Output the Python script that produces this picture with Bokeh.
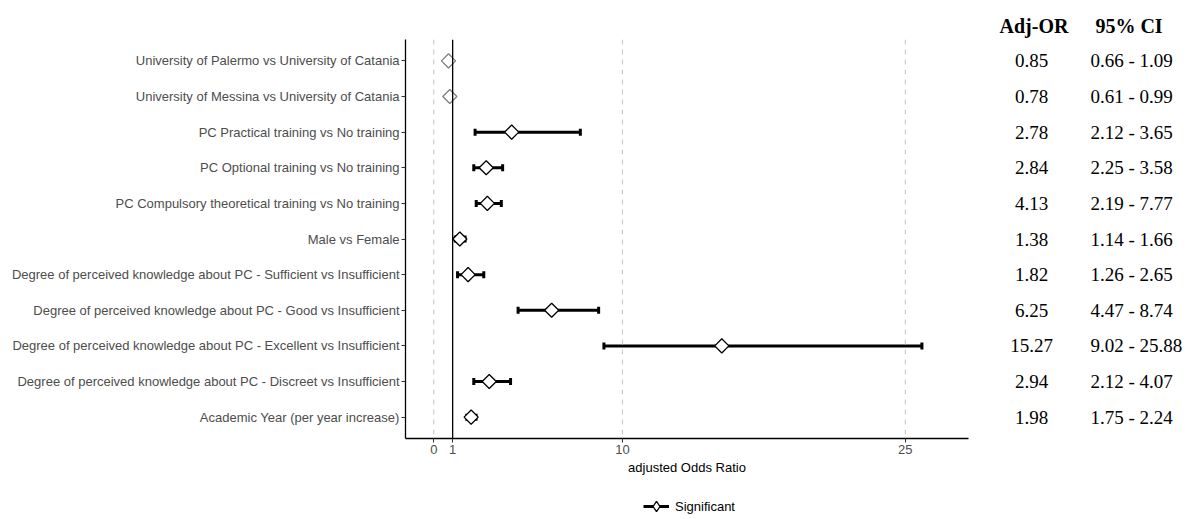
import math
from bokeh.plotting import figure
from bokeh.layouts import row, column
from bokeh.models import (Range1d, FixedTicker, Span, Legend, LegendItem,
                          ColumnDataSource)
from bokeh.embed import file_html
from bokeh.resources import INLINE
from bokeh.core.properties import value

# ---------------- data ----------------
labels = [
    "University of Palermo vs University of Catania",
    "University of Messina vs University of Catania",
    "PC Practical training vs No training",
    "PC Optional training vs No training",
    "PC Compulsory theoretical training vs No training",
    "Male vs Female",
    "Degree of perceived knowledge about PC - Sufficient vs Insufficient",
    "Degree of perceived knowledge about PC - Good vs Insufficient",
    "Degree of perceived knowledge about PC - Excellent vs Insufficient",
    "Degree of perceived knowledge about PC - Discreet vs Insufficient",
    "Academic Year (per year increase)",
]
or_plot = [0.78, 0.85, 4.13, 2.78, 2.84, 1.38, 1.82, 6.25, 15.27, 2.94, 1.98]
lo_plot = [0.61, 0.66, 2.19, 2.12, 2.25, 1.14, 1.26, 4.47, 9.02, 2.12, 1.75]
hi_plot = [0.99, 1.09, 7.77, 3.65, 3.58, 1.66, 2.65, 8.74, 25.88, 4.07, 2.24]
significant = [False, False, True, True, True, True, True, True, True, True, True]

# table text as printed
table_or = ["0.85", "0.78", "2.78", "2.84", "4.13", "1.38", "1.82", "6.25",
            "15.27", "2.94", "1.98"]
table_ci = ["0.66 - 1.09", "0.61 - 0.99", "2.12 - 3.65", "2.25 - 3.58",
            "2.19 - 7.77", "1.14 - 1.66", "1.26 - 2.65", "4.47 - 8.74",
            "9.02 - 25.88", "2.12 - 4.07", "1.75 - 2.24"]
table_headers = ["Adj-OR", "95% CI"]
legend_label = "Significant"

x_ticks = [0, 1, 10, 25]
dashed_refs = [0, 10, 25]
null_value = 1

# ---------------- build ----------------
ypos = list(range(1, len(labels) + 1))
sig_idx = [i for i, s in enumerate(significant) if s]
ns_idx = [i for i, s in enumerate(significant) if not s]

sig_src = ColumnDataSource(dict(
    y=[ypos[i] for i in sig_idx], est=[or_plot[i] for i in sig_idx],
    lo=[lo_plot[i] for i in sig_idx], hi=[hi_plot[i] for i in sig_idx]))
ns_src = ColumnDataSource(dict(
    y=[ypos[i] for i in ns_idx], est=[or_plot[i] for i in ns_idx]))

SANS = "Liberation Sans"
SERIF = "Liberation Serif"

H_MAIN = 482
H_LEG = 37
TOP = 39
BOTTOM = 44
LEFT = 405
RIGHT = 15
W_MAIN = 983
W_TAB = 211

yr = Range1d(len(labels) + 0.6, 0.4)

p = figure(width=W_MAIN, height=H_MAIN, x_range=Range1d(-1.5, 28.35),
           y_range=yr, output_backend="svg", toolbar_location=None,
           min_border_left=LEFT, min_border_right=RIGHT,
           min_border_top=TOP, min_border_bottom=BOTTOM)
p.grid.visible = False
p.outline_line_color = None

# reference lines
for v in dashed_refs:
    p.add_layout(Span(location=v, dimension="height", line_color="#c4c4c4",
                      line_dash="5 5", line_width=1))
p.add_layout(Span(location=null_value, dimension="height", line_color="black",
                  line_width=1.3))

SEG_KW = dict(line_color="black", line_width=3)
DIA_KW = dict(marker="square", angle=math.pi / 4, size=10, fill_color="white",
              line_color="black", line_width=1.3)

# error bars
p.segment(x0="lo", y0="y", x1="hi", y1="y", source=sig_src, **SEG_KW)
p.scatter(x="lo", y="y", source=sig_src, marker="dash", angle=math.pi / 2,
          size=7, line_color="black", line_width=3)
p.scatter(x="hi", y="y", source=sig_src, marker="dash", angle=math.pi / 2,
          size=7, line_color="black", line_width=3)

# points
p.scatter(x="est", y="y", source=sig_src, **DIA_KW)
p.scatter(x="est", y="y", source=ns_src, marker="square",
          angle=math.pi / 4, size=10, fill_color="white",
          line_color="#7f7f7f", line_width=1.3)

# axes
xa = p.xaxis[0]
xa.ticker = FixedTicker(ticks=x_ticks)
xa.axis_label = "adjusted Odds Ratio"
xa.axis_label_text_font = SANS
xa.axis_label_text_font_size = "13px"
xa.axis_label_text_font_style = "normal"
xa.axis_label_text_color = "black"
xa.axis_label_standoff = 3
xa.major_label_text_font = SANS
xa.major_label_text_font_size = "13px"
xa.major_label_text_color = "#4d4d4d"
xa.major_label_standoff = 2
xa.axis_line_color = "black"
xa.axis_line_width = 1.3
xa.major_tick_line_color = "#333333"
xa.major_tick_in = 0
xa.major_tick_out = 4
xa.minor_tick_line_color = None

ya = p.yaxis[0]
ya.ticker = FixedTicker(ticks=ypos)
ya.major_label_overrides = {y: lab for y, lab in zip(ypos, labels)}
ya.major_label_text_font = SANS
ya.major_label_text_font_size = "13px"
ya.major_label_text_color = "#4d4d4d"
ya.major_label_standoff = 2
ya.axis_line_color = "black"
ya.axis_line_width = 1.3
ya.major_tick_line_color = "#333333"
ya.major_tick_in = 0
ya.major_tick_out = 4
ya.minor_tick_line_color = None

# ---------------- table ----------------
t = figure(width=W_TAB, height=H_MAIN, x_range=Range1d(0, W_TAB), y_range=yr,
           output_backend="svg", toolbar_location=None,
           x_axis_location="above", y_axis_location=None,
           min_border_left=0, min_border_right=0, min_border_top=TOP,
           min_border_bottom=BOTTOM)
t.grid.visible = False
t.outline_line_color = None

ta = t.xaxis[0]
ta.ticker = FixedTicker(ticks=[50.5, 145.5])
ta.major_label_overrides = {50.5: table_headers[0], 145.5: table_headers[1]}
ta.major_label_text_font = SERIF
ta.major_label_text_font_size = "20px"
ta.major_label_text_font_style = "bold"
ta.major_label_text_color = "black"
ta.major_label_standoff = 3
ta.major_tick_in = 0
ta.major_tick_out = 0
ta.axis_line_color = None
ta.major_tick_line_color = None
ta.minor_tick_line_color = None

t.text(x=[48] * len(ypos), y=ypos, text=table_or, text_align="center",
       text_baseline="middle", text_font=value(SERIF),
       text_font_size="19px", text_color="black")
t.text(x=[107] * len(ypos), y=ypos, text=table_ci, text_align="left",
       text_baseline="middle", text_font=value(SERIF),
       text_font_size="19px", text_color="black")

# ---------------- legend strip ----------------
lg = figure(width=W_MAIN, height=H_LEG, x_range=Range1d(0, 1),
            y_range=Range1d(0, 1), output_backend="svg",
            toolbar_location=None, x_axis_location=None,
            y_axis_location=None, min_border_left=LEFT,
            min_border_right=RIGHT, min_border_top=0, min_border_bottom=0)
lg.grid.visible = False
lg.outline_line_color = None
# legend proxies: one point kept outside the visible strip range
proxy = ColumnDataSource(dict(x=[-5], y=[-5], x1=[-4]))
r_seg = lg.segment(x0="x", y0="y", x1="x1", y1="y", source=proxy, **SEG_KW)
r_dia = lg.scatter(x="x", y="y", source=proxy, marker="diamond",
                   fill_color="white", line_color="black", line_width=1.3)
legend = Legend(items=[LegendItem(label=legend_label,
                                  renderers=[r_seg, r_dia])],
                location=(238, 0), orientation="horizontal",
                border_line_color=None, background_fill_alpha=0,
                label_text_font=SANS, label_text_font_size="13px",
                label_text_color="black", glyph_width=26, glyph_height=26,
                padding=0, margin=0, spacing=0, label_standoff=6)
lg.add_layout(legend)

layout = column(row(p, t), lg)
open("out.html", "w").write(file_html(layout, INLINE))
